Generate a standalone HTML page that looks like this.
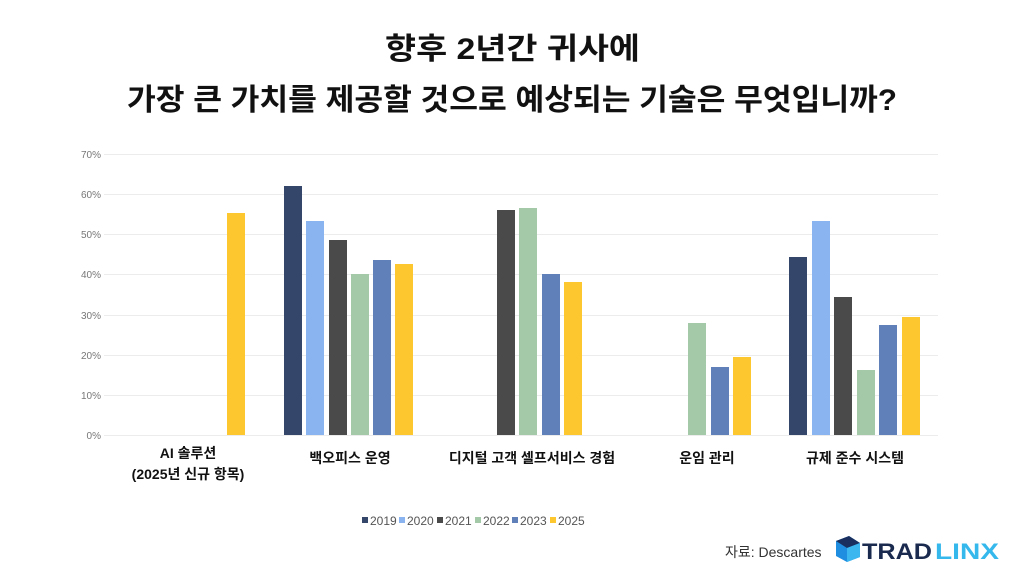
<!DOCTYPE html>
<html><head><meta charset="utf-8"><style>
body{margin:0;background:#fff;}
svg{display:block}
</style></head><body>
<svg width="1024" height="577" viewBox="0 0 1024 577" xmlns="http://www.w3.org/2000/svg" font-family="'Liberation Sans','Noto Sans CJK KR',sans-serif">
<rect width="1024" height="577" fill="#fff"/>
<text x="385" y="59" textLength="255" lengthAdjust="spacingAndGlyphs" font-size="30" font-weight="bold" fill="#111">향후 2년간 귀사에</text>
<text x="127" y="110" textLength="770" lengthAdjust="spacingAndGlyphs" font-size="30" font-weight="bold" fill="#111">가장 큰 가치를 제공할 것으로 예상되는 기술은 무엇입니까?</text>
<g stroke="#ececec" stroke-width="1">
<line x1="104" x2="938" y1="154.5" y2="154.5"/><line x1="104" x2="938" y1="194.5" y2="194.5"/>
<line x1="104" x2="938" y1="234.5" y2="234.5"/><line x1="104" x2="938" y1="274.5" y2="274.5"/>
<line x1="104" x2="938" y1="315.5" y2="315.5"/><line x1="104" x2="938" y1="355.5" y2="355.5"/>
<line x1="104" x2="938" y1="395.5" y2="395.5"/><line x1="104" x2="938" y1="435.5" y2="435.5"/>
</g>
<g font-size="10" fill="#777" text-anchor="end">
<text x="101" y="158">70%</text><text x="101" y="198">60%</text><text x="101" y="238">50%</text>
<text x="101" y="278">40%</text><text x="101" y="319">30%</text><text x="101" y="359">20%</text>
<text x="101" y="399">10%</text><text x="101" y="439">0%</text>
</g>
<g>
<rect x="227" y="213" width="18" height="222" fill="#fdc82f"/>
<rect x="284" y="186" width="18" height="249" fill="#34466a"/>
<rect x="306" y="221" width="18" height="214" fill="#8ab4f0"/>
<rect x="329" y="240" width="18" height="195" fill="#4a4a4a"/>
<rect x="351" y="274" width="18" height="161" fill="#a3c9a8"/>
<rect x="373" y="260" width="18" height="175" fill="#5f80b8"/>
<rect x="395" y="264" width="18" height="171" fill="#fdc82f"/>
<rect x="497" y="210" width="18" height="225" fill="#4a4a4a"/>
<rect x="519" y="208" width="18" height="227" fill="#a3c9a8"/>
<rect x="542" y="274" width="18" height="161" fill="#5f80b8"/>
<rect x="564" y="282" width="18" height="153" fill="#fdc82f"/>
<rect x="688" y="323" width="18" height="112" fill="#a3c9a8"/>
<rect x="711" y="367" width="18" height="68" fill="#5f80b8"/>
<rect x="733" y="357" width="18" height="78" fill="#fdc82f"/>
<rect x="789" y="257" width="18" height="178" fill="#34466a"/>
<rect x="812" y="221" width="18" height="214" fill="#8ab4f0"/>
<rect x="834" y="297" width="18" height="138" fill="#4a4a4a"/>
<rect x="857" y="370" width="18" height="65" fill="#a3c9a8"/>
<rect x="879" y="325" width="18" height="110" fill="#5f80b8"/>
<rect x="902" y="317" width="18" height="118" fill="#fdc82f"/>
</g>
<g font-size="14" font-weight="bold" fill="#111" text-anchor="middle">
<text x="188" y="458">AI 솔루션</text>
<text x="188" y="479">(2025년 신규 항목)</text>
<text x="350" y="463">백오피스 운영</text>
<text x="532" y="463">디지털 고객 셀프서비스 경험</text>
<text x="707" y="463">운임 관리</text>
<text x="855" y="463">규제 준수 시스템</text>
</g>
<g font-size="12" fill="#555">
<rect x="362" y="517" width="6" height="6" fill="#34466a"/><text x="370" y="525">2019</text>
<rect x="399" y="517" width="6" height="6" fill="#8ab4f0"/><text x="407" y="525">2020</text>
<rect x="437" y="517" width="6" height="6" fill="#4a4a4a"/><text x="445" y="525">2021</text>
<rect x="475" y="517" width="6" height="6" fill="#a3c9a8"/><text x="483" y="525">2022</text>
<rect x="512" y="517" width="6" height="6" fill="#5f80b8"/><text x="520" y="525">2023</text>
<rect x="550" y="517" width="6" height="6" fill="#fdc82f"/><text x="558" y="525">2025</text>
</g>
<text x="725" y="557" font-size="14" fill="#333">자료: Descartes</text>
<g>
<polygon points="836,541 849,536 860,543 860,557 847,562 836,556" fill="#1f8ee0"/>
<polygon points="836,541 849,536 860,543 847,548" fill="#1a2f5e"/>
<polygon points="847,548 860,543 860,557 847,562" fill="#3cb6ef"/>
<text x="862" y="559" font-size="22" font-weight="bold" fill="#1a2a4f" textLength="70" lengthAdjust="spacingAndGlyphs">TRAD</text>
<text x="935" y="559" font-size="22" font-weight="bold" fill="#35b8ec" textLength="64" lengthAdjust="spacingAndGlyphs">LINX</text>
</g>
</svg>
</body></html>
